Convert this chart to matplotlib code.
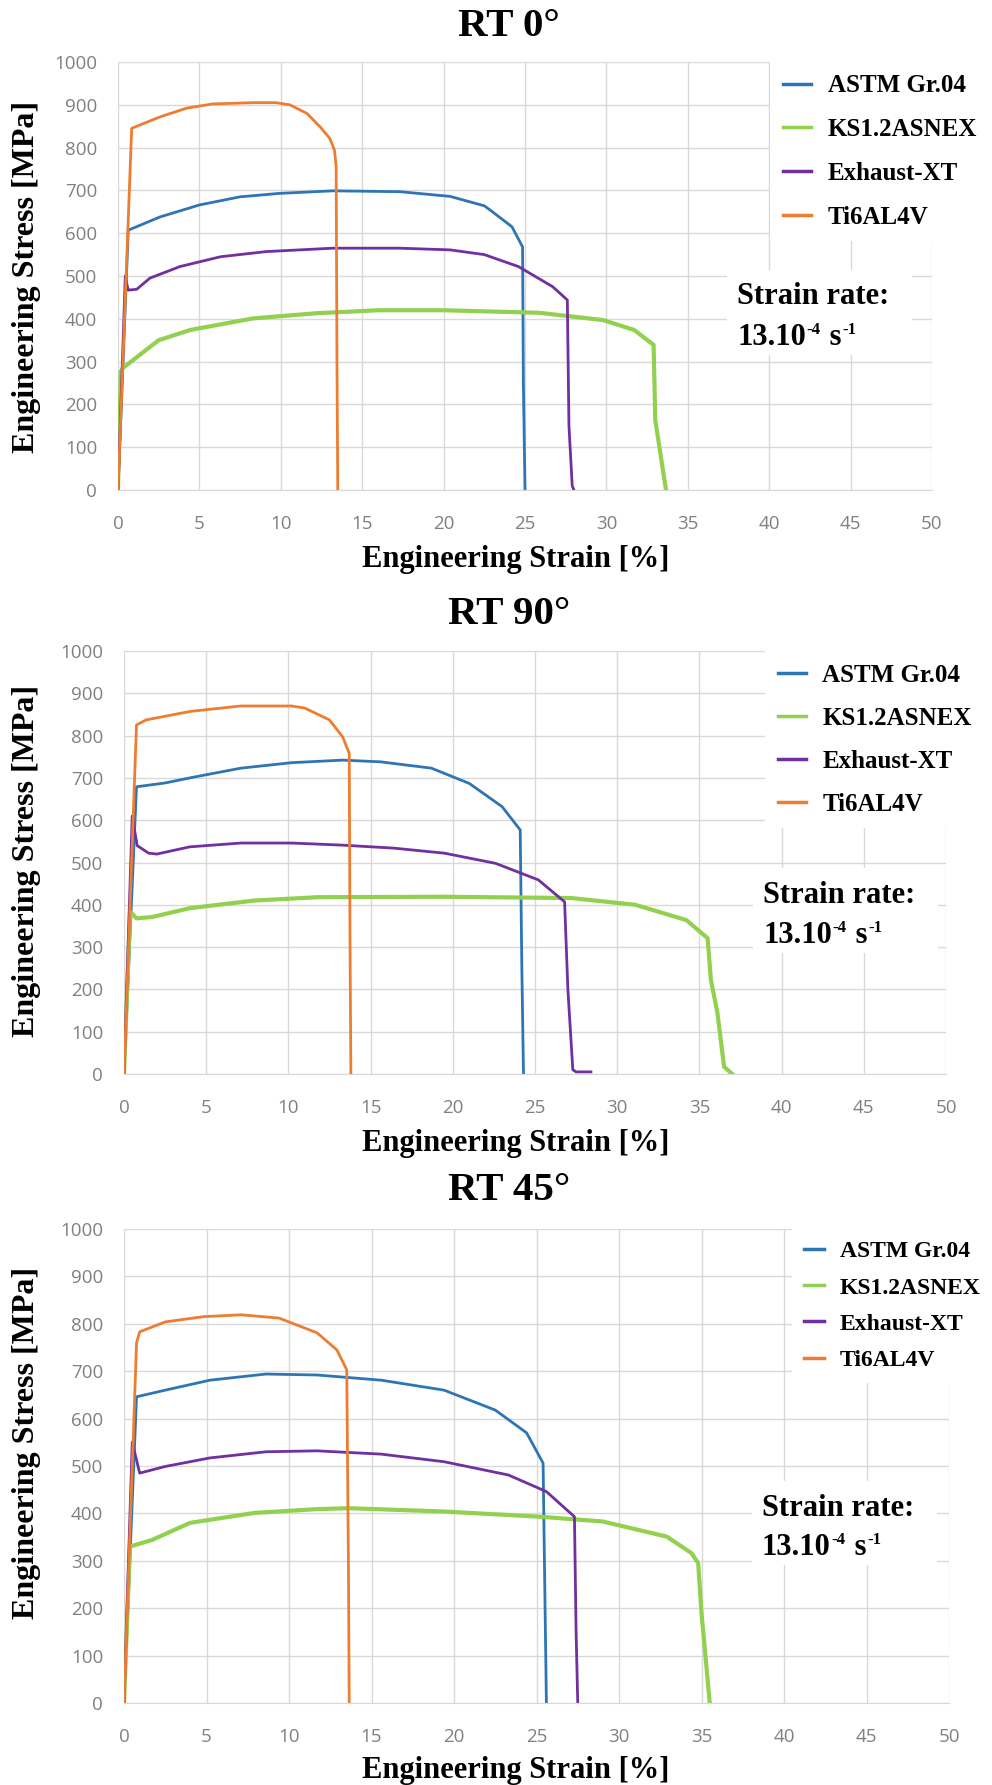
import matplotlib
matplotlib.use("Agg")
import matplotlib.pyplot as plt
from matplotlib.lines import Line2D
from matplotlib.patches import Rectangle
from matplotlib.font_manager import FontProperties

W, H, DPI = 992, 1785, 100

SERIF = 'Liberation Serif'
TICKFONT = 'Open Sans'

series_names = ["ASTM Gr.04", "KS1.2ASNEX", "Exhaust-XT", "Ti6AL4V"]
series_colors = ["#2E75B6", "#92D050", "#7030A0", "#ED7D31"]

strain_ticks = [0, 5, 10, 15, 20, 25, 30, 35, 40, 45, 50]
stress_ticks = [0, 100, 200, 300, 400, 500, 600, 700, 800, 900, 1000]

# ---- RT 0 deg ----
astm_0_strain = [0, 0.63, 2.58, 5.0, 7.5, 9.9, 13.2, 17.3, 20.4, 22.5, 23.0, 24.2, 24.85, 24.9, 25.0]
astm_0_stress = [0, 607, 638, 666, 685, 693, 699, 697, 686, 664, 650, 615, 568, 250, 0]
ks_0_strain = [0, 0.16, 0.3, 0.94, 2.5, 4.45, 8.3, 12.2, 16.0, 20.0, 25.9, 29.8, 31.7, 32.9, 33.0, 33.66]
ks_0_stress = [0, 276, 285, 304, 350, 374, 401, 413, 420, 420, 414, 397, 374, 339, 164, 0]
exh_0_strain = [0, 0.45, 0.55, 0.63, 1.15, 1.96, 3.8, 6.3, 9.1, 13.2, 17.3, 20.4, 22.5, 24.6, 26.7, 27.6, 27.7, 27.9, 28.0]
exh_0_stress = [0, 500, 480, 467, 469, 495, 522, 545, 557, 565, 565, 561, 550, 522, 475, 444, 150, 10, 0]
ti_0_strain = [0, 0.45, 0.84, 1.35, 2.6, 4.2, 5.8, 8.3, 9.7, 10.55, 11.6, 12.4, 13.0, 13.3, 13.4, 13.45, 13.5]
ti_0_stress = [0, 450, 845, 853, 872, 892, 902, 905, 905, 900, 880, 849, 822, 794, 755, 300, 0]

# ---- RT 90 deg ----
astm_90_strain = [0, 0.76, 2.5, 4.0, 7.1, 10.2, 13.3, 15.6, 18.7, 21.0, 23.0, 24.1, 24.2, 24.3]
astm_90_stress = [0, 679, 688, 700, 723, 736, 742, 738, 723, 687, 632, 577, 250, 0]
ks_90_strain = [0, 0.37, 0.76, 1.7, 4.0, 7.9, 11.8, 19.5, 27.2, 31.1, 34.2, 35.5, 35.7, 36.1, 36.5, 37.0]
ks_90_stress = [0, 384, 368, 371, 392, 410, 418, 419, 416, 400, 364, 321, 222, 144, 17, 0]
exh_90_strain = [0, 0.5, 0.8, 1.5, 2.0, 4.0, 7.1, 10.2, 13.3, 16.4, 19.5, 22.6, 25.2, 26.8, 27.0, 27.3, 27.5, 28.4]
exh_90_stress = [0, 610, 540, 522, 520, 537, 546, 546, 541, 534, 522, 498, 459, 407, 200, 10, 5, 5]
ti_90_strain = [0, 0.76, 1.34, 4.0, 7.1, 10.2, 11.0, 12.5, 13.3, 13.7, 13.75, 13.8]
ti_90_stress = [0, 825, 837, 857, 870, 870, 865, 837, 797, 758, 300, 0]

# ---- RT 45 deg ----
astm_45_strain = [0, 0.76, 2.5, 5.2, 8.6, 11.7, 15.6, 19.4, 22.5, 24.4, 25.4, 25.5, 25.6]
astm_45_stress = [0, 646, 660, 681, 694, 692, 681, 660, 618, 570, 506, 250, 0]
ks_45_strain = [0, 0.36, 1.7, 4.0, 7.9, 11.7, 13.6, 19.4, 25.2, 29.0, 32.9, 34.4, 34.8, 35.0, 35.5]
ks_45_stress = [0, 330, 344, 380, 401, 409, 411, 404, 393, 383, 351, 316, 295, 190, 0]
exh_45_strain = [0, 0.5, 0.95, 2.5, 5.2, 8.6, 11.7, 15.6, 19.4, 23.3, 25.6, 27.3, 27.4, 27.5]
exh_45_stress = [0, 550, 485, 499, 517, 530, 532, 525, 509, 481, 446, 393, 150, 0]
ti_45_strain = [0, 0.76, 0.95, 2.5, 4.8, 7.1, 9.4, 11.7, 12.9, 13.5, 13.6, 13.65]
ti_45_stress = [0, 760, 783, 804, 815, 819, 812, 781, 745, 703, 300, 0]

panel_titles = ["RT 0°", "RT 90°", "RT 45°"]
panel_curves = [
    [(astm_0_strain, astm_0_stress), (ks_0_strain, ks_0_stress),
     (exh_0_strain, exh_0_stress), (ti_0_strain, ti_0_stress)],
    [(astm_90_strain, astm_90_stress), (ks_90_strain, ks_90_stress),
     (exh_90_strain, exh_90_stress), (ti_90_strain, ti_90_stress)],
    [(astm_45_strain, astm_45_stress), (ks_45_strain, ks_45_stress),
     (exh_45_strain, exh_45_stress), (ti_45_strain, ti_45_stress)],
]

# layout in pixels: axes box (left, top, right, bottom), text anchors
layout = [
    dict(box=(118, 62, 932, 490), title_y=27, xlabel_y=560, ylabel_y=277,
         legend=(770, 62), legend_fs=18, legend_sp=0.83, legend_hl=1.12,
         rate=(737, 297, 335)),
    dict(box=(124, 651, 946, 1074), title_y=615, xlabel_y=1143, ylabel_y=861,
         legend=(765, 651), legend_fs=18, legend_sp=0.8, legend_hl=1.12,
         rate=(763, 895, 933)),
    dict(box=(124, 1229, 949, 1703), title_y=1191, xlabel_y=1770, ylabel_y=1443,
         legend=(792, 1229), legend_fs=17, legend_sp=0.62, legend_hl=0.85,
         rate=(762, 1508, 1545)),
]

fig = plt.figure(figsize=(W / DPI, H / DPI), dpi=DPI)
fig.patch.set_facecolor('white')
renderer = fig.canvas.get_renderer()


def fx(px):
    return px / W


def fy(py):
    return 1 - py / H


def rate_label(x_px, y1_px, y2_px, size):
    """Two-line strain-rate note on a white patch, with raised exponents."""
    fig.add_artist(Rectangle((fx(x_px - 10), fy(y2_px + 20)), 185 / W,
                             (y2_px - y1_px + 47) / H, transform=fig.transFigure,
                             facecolor='white', edgecolor='none', zorder=2.5))
    kw = dict(family=SERIF, weight='bold', ha='left', zorder=3)
    fig.text(fx(x_px), fy(y1_px), "Strain rate:", fontsize=size, va='center', **kw)
    pieces = [("13.10", False), ("-4", True), (" s", False), ("-1", True)]
    x = x_px
    pt = DPI / 72.0
    base_px = y2_px + size * 0.33 * pt
    for txt, sup in pieces:
        if sup:
            t = fig.text(fx(x + 1), fy(base_px - size * 0.36 * pt), txt,
                         fontsize=size * 0.55, va='baseline', **kw)
        else:
            t = fig.text(fx(x), fy(base_px), txt, fontsize=size, va='baseline', **kw)
        bb = t.get_window_extent(renderer)
        x = bb.x1 + (1 if sup else 0)


for title, curves, lay in zip(panel_titles, panel_curves, layout):
    l, t, r, b = lay['box']
    ax = fig.add_axes([fx(l), fy(b), (r - l) / W, (b - t) / H])
    ax.set_xlim(0, 50)
    ax.set_ylim(0, 1000)
    ax.set_xticks(strain_ticks)
    ax.set_yticks(stress_ticks)
    ax.grid(True, color='#D9D9D9', linewidth=1.0)
    ax.set_axisbelow(True)
    for side in ['top', 'right', 'left']:
        ax.spines[side].set_visible(False)
    ax.spines['bottom'].set_color('#D9D9D9')
    ax.tick_params(length=0, labelcolor='#808080', labelsize=13.5)
    ax.tick_params(axis='y', pad=15)
    ax.tick_params(axis='x', pad=18)
    for lab in ax.get_xticklabels() + ax.get_yticklabels():
        lab.set_fontfamily(TICKFONT)

    for (xs, ys), name, col in zip(curves, series_names, series_colors):
        lw = 3.0 if name == "KS1.2ASNEX" else 2.0
        ax.plot(xs, ys, color=col, linewidth=lw, label=name, solid_joinstyle='round')

    handles = [Line2D([0], [0], color=c, linewidth=2.5) for c in series_colors]
    ax.legend(handles, series_names, loc='upper left',
              bbox_to_anchor=(fx(lay['legend'][0]), fy(lay['legend'][1])),
              bbox_transform=fig.transFigure, frameon=True, facecolor='white',
              edgecolor='none', framealpha=1, fancybox=False,
              prop=FontProperties(family=SERIF, weight='bold', size=lay['legend_fs']),
              handlelength=lay['legend_hl'], handletextpad=0.68,
              labelspacing=lay['legend_sp'], borderpad=0.5, borderaxespad=0)

    rx, ry1, ry2 = lay['rate']
    rate_label(rx, ry1, ry2, 22)

    fig.text(fx(509), fy(lay['title_y']), title, family=SERIF, weight='bold',
             fontsize=29.5, ha='center', va='center')
    fig.text(fx(516), fy(lay['xlabel_y']), "Engineering Strain [%]", family=SERIF,
             weight='bold', fontsize=22, ha='center', va='center')
    fig.text(fx(27), fy(lay['ylabel_y']), "Engineering Stress [MPa]", family=SERIF,
             weight='bold', fontsize=23, ha='center', va='center', rotation=90)

fig.savefig("out.png", dpi=DPI, facecolor='white')
